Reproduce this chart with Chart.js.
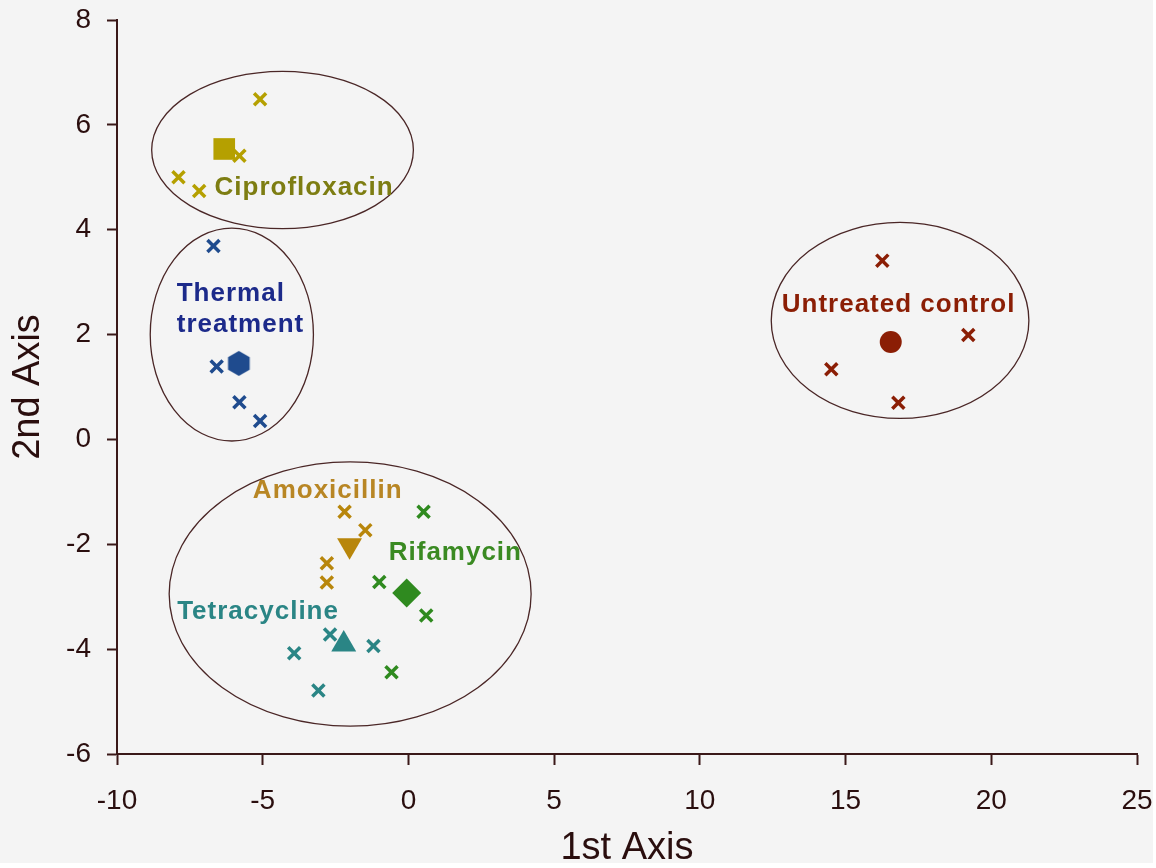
<!DOCTYPE html>
<html>
<head>
<meta charset="utf-8">
<script src="https://cdn.jsdelivr.net/npm/chart.js@4.4.1/dist/chart.umd.min.js"></script>
<style>
  html, body { margin: 0; padding: 0; background: #fff; }
  #wrap { width: 1153px; height: 863px; overflow: hidden; background: #f4f4f4; }
</style>
</head>
<body>
<div id="wrap"><canvas id="chart" width="1156" height="868"></canvas></div>
<script>
// PCA-style score plot: replicates (x marks) and group centroids
const groups = ['Ciprofloxacin', 'Thermal treatment', 'Untreated control', 'Amoxicillin', 'Rifamycin', 'Tetracycline'];

// replicate scores, one pair of arrays per group
const ciproX = [-5.09, -5.80, -7.89, -7.18];
const ciproY = [6.49, 5.41, 5.00, 4.74];
const thermalX = [-6.69, -6.58, -5.80, -5.09];
const thermalY = [3.69, 1.39, 0.71, 0.35];
const controlX = [16.26, 19.21, 14.51, 16.81];
const controlY = [3.41, 1.99, 1.34, 0.70];
const amoxX = [-2.19, -1.48, -2.80, -2.80];
const amoxY = [-1.38, -1.73, -2.36, -2.73];
const rifaX = [0.52, -1.00, 0.61, -0.58];
const rifaY = [-1.38, -2.72, -3.36, -4.44];
const tetraX = [-2.69, -1.20, -3.92, -3.09];
const tetraY = [-3.72, -3.94, -4.08, -4.79];

// group centroids, same order as groups
const centroidX = [-6.32, -5.82, 16.55, -2.02, -0.06, -2.22];
const centroidY = [5.54, 1.45, 1.86, -2.02, -2.93, -3.91];

const xTicks = [-10, -5, 0, 5, 10, 15, 20, 25];
const yTicks = [-6, -4, -2, 0, 2, 4, 6, 8];

const axisColor = '#3a1818';
const textColor = '#2a0e0e';
const FONT = '"Liberation Sans", Arial, Helvetica, sans-serif';

const markColor = ['#b5a000', '#1f4b8e', '#8b1e05', '#b8860b', '#2f8a1f', '#2a8585'];
const labelColor = ['#7d7d12', '#1c2a8a', '#8b1e05', '#b88624', '#3a8a22', '#2a8585'];

// hexagon marker for thermal treatment
function hexagon(r, color) {
  const c = document.createElement('canvas');
  const s = Math.ceil(r * 2 + 2);
  c.width = s; c.height = s;
  const g = c.getContext('2d');
  g.fillStyle = color;
  g.beginPath();
  for (let i = 0; i < 6; i++) {
    const a = Math.PI / 3 * i;
    const px = s / 2 + r * Math.sin(a), py = s / 2 - r * Math.cos(a);
    if (i === 0) g.moveTo(px, py); else g.lineTo(px, py);
  }
  g.closePath();
  g.fill();
  return c;
}

const pts = (xs, ys) => xs.map((x, i) => ({ x: x, y: ys[i] }));
const reps = [[ciproX, ciproY], [thermalX, thermalY], [controlX, controlY], [amoxX, amoxY], [rifaX, rifaY], [tetraX, tetraY]];

const centroidStyle = [
  { pointStyle: 'rect', radius: 15.3 },
  { pointStyle: hexagon(12.5, markColor[1]), radius: 13 },
  { pointStyle: 'circle', radius: 11 },
  { pointStyle: 'triangle', radius: 14.4, rotation: 180 },
  { pointStyle: 'rectRot', radius: 14.5 },
  { pointStyle: 'triangle', radius: 14.4 }
];

const datasets = [];
groups.forEach((name, i) => {
  datasets.push({
    label: name + ' replicates',
    data: pts(reps[i][0], reps[i][1]),
    pointStyle: 'crossRot',
    pointRadius: 8.5,
    pointBorderWidth: 3.5,
    borderColor: markColor[i],
    backgroundColor: markColor[i],
    order: i === 5 ? 3 : 1
  });
  const st = centroidStyle[i];
  datasets.push({
    label: name,
    data: [{ x: centroidX[i], y: centroidY[i] }],
    pointStyle: st.pointStyle,
    pointRadius: st.radius,
    pointRotation: st.rotation || 0,
    pointBorderWidth: 0,
    borderColor: markColor[i],
    backgroundColor: markColor[i],
    order: i === 5 ? 1 : 2
  });
});

// group outlines (data units: centre x, centre y, radius x, radius y)
const rings = [
  [-4.32, 5.52, 4.49, 1.50],
  [-6.06, 2.00, 2.80, 2.03],
  [16.87, 2.27, 4.42, 1.87],
  [-2.00, -2.95, 6.21, 2.52]
];

// group names (data units, baseline)
const names = [
  { text: ['Ciprofloxacin'], x: -3.58, y: [4.66], align: 'center', c: 0 },
  { text: ['Thermal', 'treatment'], x: -7.95, y: [2.64, 2.05], align: 'left', c: 1 },
  { text: ['Untreated control'], x: 16.82, y: [2.43], align: 'center', c: 2 },
  { text: ['Amoxicillin'], x: -2.77, y: [-1.12], align: 'center', c: 3 },
  { text: ['Rifamycin'], x: 1.61, y: [-2.30], align: 'center', c: 4 },
  { text: ['Tetracycline'], x: -5.16, y: [-3.42], align: 'center', c: 5 }
];

const overlay = {
  id: 'overlay',
  beforeDatasetsDraw(chart) {
    const { ctx, scales: { x, y } } = chart;
    ctx.save();
    ctx.strokeStyle = '#4a2626';
    ctx.lineWidth = 1.3;
    rings.forEach(r => {
      const cx = x.getPixelForValue(r[0]), cy = y.getPixelForValue(r[1]);
      const rx = Math.abs(x.getPixelForValue(r[0] + r[2]) - cx);
      const ry = Math.abs(y.getPixelForValue(r[1] + r[3]) - cy);
      ctx.beginPath();
      ctx.ellipse(cx, cy, rx, ry, 0, 0, Math.PI * 2);
      ctx.stroke();
    });
    ctx.restore();
  },
  afterDatasetsDraw(chart) {
    const { ctx, scales: { x, y } } = chart;
    ctx.save();
    ctx.font = 'bold 26px ' + FONT;
    ctx.letterSpacing = '1px';
    ctx.textBaseline = 'alphabetic';
    names.forEach(n => {
      ctx.fillStyle = labelColor[n.c];
      ctx.textAlign = n.align;
      n.text.forEach((t, k) => {
        ctx.fillText(t, x.getPixelForValue(n.x), y.getPixelForValue(n.y[k]));
      });
    });
    ctx.restore();
  }
};

new Chart(document.getElementById('chart'), {
  type: 'scatter',
  data: { datasets: datasets },
  plugins: [overlay],
  options: {
    responsive: false,
    animation: false,
    layout: { padding: { top: 20, right: 19, left: 0, bottom: 0 } },
    plugins: { legend: { display: false }, tooltip: { enabled: false } },
    scales: {
      x: {
        type: 'linear', min: -10, max: 25,
        afterBuildTicks: s => { s.ticks = xTicks.map(v => ({ value: v })); },
        afterFit: s => { s.height = 114; s.paddingLeft = 0; s.paddingRight = 0; },
        grid: { drawOnChartArea: false, tickLength: 11, tickWidth: 2, tickColor: axisColor },
        border: { color: axisColor, width: 2 },
        ticks: { color: textColor, font: { family: FONT, size: 28 }, padding: 19, maxRotation: 0 },
        title: { display: true, text: '1st Axis', color: textColor, font: { family: FONT, size: 38, lineHeight: 1 }, padding: 0 }
      },
      y: {
        type: 'linear', min: -6, max: 8,
        afterBuildTicks: s => { s.ticks = yTicks.map(v => ({ value: v })); },
        afterFit: s => { s.width = 117; s.paddingTop = 0; s.paddingBottom = 0; },
        grid: { drawOnChartArea: false, tickLength: 10, tickWidth: 2, tickColor: axisColor },
        border: { color: axisColor, width: 2 },
        ticks: { color: textColor, font: { family: FONT, size: 28 }, padding: 16 },
        title: { display: true, text: '2nd Axis', color: textColor, font: { family: FONT, size: 38, lineHeight: 1 }, padding: { top: 10, bottom: 0 } }
      }
    }
  }
});
</script>
</body>
</html>
